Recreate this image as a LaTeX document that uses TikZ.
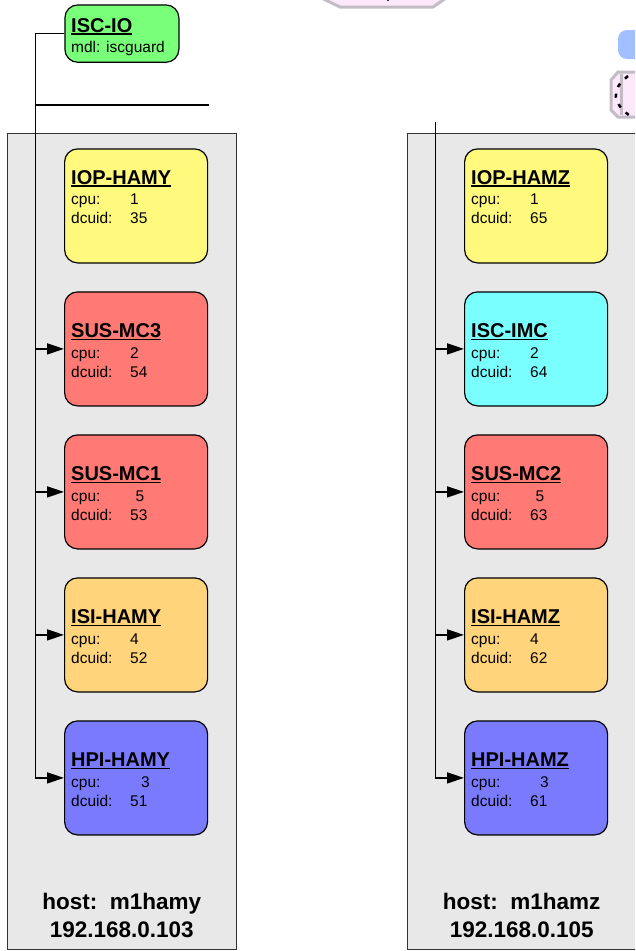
\documentclass[tikz,border=0pt]{standalone}
\usepackage{fontspec}
\setmainfont{Liberation Sans}
\usetikzlibrary{arrows.meta}
\definecolor{hostfill}{RGB}{232,232,232}
\definecolor{hostdraw}{RGB}{50,50,50}
\definecolor{cyel}{RGB}{255,250,125}
\definecolor{cred}{RGB}{255,122,117}
\definecolor{corange}{RGB}{255,212,122}
\definecolor{cblue}{RGB}{122,122,255}
\definecolor{ccyan}{RGB}{122,255,255}
\definecolor{cgreen}{RGB}{122,255,122}
\definecolor{fragpink}{RGB}{252,232,250}
\definecolor{fraggray}{RGB}{195,188,198}
\definecolor{fragblue}{RGB}{162,192,255}
\newcommand\myul[1]{\setbox0\hbox{#1}\rlap{\rule[-2.4pt]{\wd0}{1.5pt}}\box0}
\tikzset{
  hostbox/.style={draw=hostdraw, fill=hostfill, line width=1pt, minimum width=228.7pt, minimum height=815.7pt, anchor=north west, inner sep=0pt},
  modbox/.style={draw=black, line width=1.2pt, rounded corners=13pt, minimum width=143pt, minimum height=114pt, anchor=north west, inner sep=0pt},
  ttl/.style={anchor=base west, inner sep=0pt, font=\fontsize{20}{24}\selectfont\bfseries},
  smalltxt/.style={anchor=base west, inner sep=0pt, font=\fontsize{15.5}{18}\selectfont},
  hosttxt/.style={anchor=base, inner sep=0pt, font=\fontsize{22.5}{27}\selectfont\bfseries},
  conn/.style={line width=1.5pt, black},
  arr/.style={conn, -{Triangle[length=17pt,width=11pt]}},
  fragline/.style={draw=fraggray, line width=3pt, fill=fragpink}
}
% #1 name, #2 x, #3 y, #4 colour, #5 title, #6 cpu value offset, #7 cpu, #8 dcuid, #9 title offset
\newcommand\modul[9]{%
  \node[modbox, fill=#4] (#1) at (#2,#3) {};
  \node[ttl] (#1-t) at (#2+7,#3+#9) {\myul{#5}};
  \node[smalltxt] (#1-c) at (#2+7,#3+#9+20.5) {cpu:};
  \node[smalltxt] (#1-cv) at (#2+#6,#3+#9+20.5) {#7};
  \node[smalltxt] (#1-d) at (#2+7,#3+#9+39.5) {dcuid:};
  \node[smalltxt] (#1-dv) at (#2+66,#3+#9+39.5) {#8};
}
\begin{document}
\begin{tikzpicture}[x=1pt,y=-1pt]
\clip (0,0) rectangle (635,951);
% fragments of neighbouring shapes
\draw[fragline] (313,-6) -- (340,7) -- (433,7) -- (452,-6) -- cycle;
\fill[black] (388,-0.5) circle (1.6);
\fill[fragblue, rounded corners=9pt] (618,30) rectangle (670,59);
\draw[fragline] (670,72) -- (618,72) -- (611,80) -- (611,110) -- (618,117) -- (670,117);
\draw[draw=fraggray, line width=3pt] (621,74) -- (621,115);
\draw[black, line width=2.5pt, dash pattern=on 4pt off 7pt] (628,76) .. controls (610,90) and (612,104) .. (633,118);
% hosts
\node[hostbox] (hosty) at (7.3,133.3) {};
\node[hostbox] (hostz) at (407,133.3) {};
\node[hosttxt] (hosty-n) at (121.7,909.5) {host:\ \ m1hamy};
\node[hosttxt] (hosty-ip) at (121.7,937) {192.168.0.103};
\node[hosttxt] (hostz-n) at (521.7,909.5) {host:\ \ m1hamz};
\node[hosttxt] (hostz-ip) at (521.7,937) {192.168.0.105};
% ISC-IO
\node[draw=black, line width=1.2pt, rounded corners=13pt, fill=cgreen, minimum width=114pt, minimum height=57.4pt, anchor=north west, inner sep=0pt] (iscio) at (64.3,4.3) {};
\node[ttl] (iscio-t) at (71,32.3) {\myul{ISC-IO}};
\node[smalltxt] (iscio-m) at (71,52.3) {mdl: iscguard};
% modules left
\modul{iophamy}{64}{148.3}{cyel}{IOP-HAMY}{66}{1}{35}{36}
\modul{susmc3}{64}{291.3}{cred}{SUS-MC3}{66}{2}{54}{46.5}
\modul{susmc1}{64}{434.3}{cred}{SUS-MC1}{71.5}{5}{53}{46.5}
\modul{isihamy}{64}{577.3}{corange}{ISI-HAMY}{66}{4}{52}{46.5}
\modul{hpihamy}{64}{720.3}{cblue}{HPI-HAMY}{77}{3}{51}{46.5}
% modules right
\modul{iophamz}{464}{148.3}{cyel}{IOP-HAMZ}{66}{1}{65}{36}
\modul{iscimc}{464}{291.3}{ccyan}{ISC-IMC}{66}{2}{64}{46.5}
\modul{susmc2}{464}{434.3}{cred}{SUS-MC2}{71.5}{5}{63}{46.5}
\modul{isihamz}{464}{577.3}{corange}{ISI-HAMZ}{66}{4}{62}{46.5}
\modul{hpihamz}{464}{720.3}{cblue}{HPI-HAMZ}{76}{3}{61}{46.5}
% connectors left
\coordinate (lbus) at (35.7,0);
\coordinate (ltap) at (209,105);
\draw[arr] (iscio.west) -| (lbus |- hpihamy.west) -- (hpihamy.west);
\draw[conn] (lbus |- ltap) -- (ltap);
\draw[arr] (lbus |- susmc3.west) -- (susmc3.west);
\draw[arr] (lbus |- susmc1.west) -- (susmc1.west);
\draw[arr] (lbus |- isihamy.west) -- (isihamy.west);
% connectors right
\coordinate (rtop) at (435.7,122);
\draw[arr] (rtop) |- (hpihamz.west);
\draw[arr] (rtop |- iscimc.west) -- (iscimc.west);
\draw[arr] (rtop |- susmc2.west) -- (susmc2.west);
\draw[arr] (rtop |- isihamz.west) -- (isihamz.west);
\end{tikzpicture}
\end{document}
